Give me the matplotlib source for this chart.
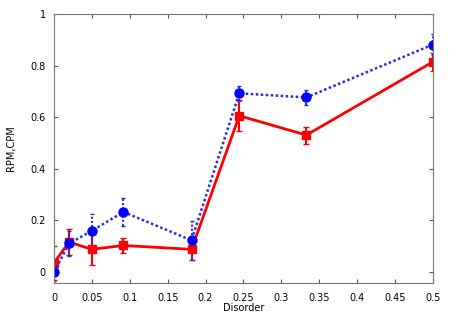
import matplotlib.pyplot as plt

disorder = [0.0, 0.02, 0.05, 0.0915, 0.1815, 0.2445, 0.333, 0.5]

cpm = [0.036, 0.116, 0.088, 0.103, 0.088, 0.606, 0.531, 0.815]
cpm_err = [0.065, 0.05, 0.06, 0.028, 0.04, 0.06, 0.033, 0.035]

rpm = [0.0, 0.111, 0.160, 0.233, 0.123, 0.693, 0.677, 0.882]
rpm_err = [0.035, 0.05, 0.065, 0.053, 0.075, 0.03, 0.03, 0.04]

xticks = [0, 0.05, 0.1, 0.15, 0.2, 0.25, 0.3, 0.35, 0.4, 0.45, 0.5]
xticklabels = ["0", "0.05", "0.1", "0.15", "0.2", "0.25", "0.3", "0.35", "0.4", "0.45", "0.5"]
yticks = [0, 0.2, 0.4, 0.6, 0.8, 1]
yticklabels = ["0", "0.2", "0.4", "0.6", "0.8", "1"]

fig = plt.figure(figsize=(4.63, 3.21), dpi=100)
ax = fig.add_axes([0.1166, 0.118, 0.8184, 0.838])

ax.errorbar(disorder, cpm, yerr=cpm_err, color="#ff0000", lw=2, marker="s",
            markersize=6, elinewidth=1.5, capsize=2)
eb = ax.errorbar(disorder, rpm, yerr=rpm_err, color="#2a2ae0", lw=1.8,
                 dashes=(1, 1), marker="o", markersize=6.5, markerfacecolor="#0000ff",
                 markeredgecolor="#0000ff", elinewidth=1.5, capsize=1.5)
eb[2][0].set_linestyle((0, (1, 1)))

ax.set_xlim(0, 0.5)
ax.set_ylim(-0.043, 1)
ax.set_xticks(xticks)
ax.set_xticklabels(xticklabels, fontsize=7)
ax.set_yticks(yticks)
ax.set_yticklabels(yticklabels, fontsize=7)
ax.tick_params(axis="x", direction="in", top=True, length=3, pad=7, color="#555555")
ax.tick_params(axis="y", direction="in", right=True, length=3, pad=6, color="#555555")
for s in ax.spines.values():
    s.set_color("#777777")

ax.set_xlabel("Disorder", fontsize=7)
ax.set_ylabel("RPM,CPM", fontsize=7)
ax.xaxis.set_label_coords(0.5, -0.074)
ax.yaxis.set_label_coords(-0.1, 0.5)

fig.savefig("out.png", dpi=100)
